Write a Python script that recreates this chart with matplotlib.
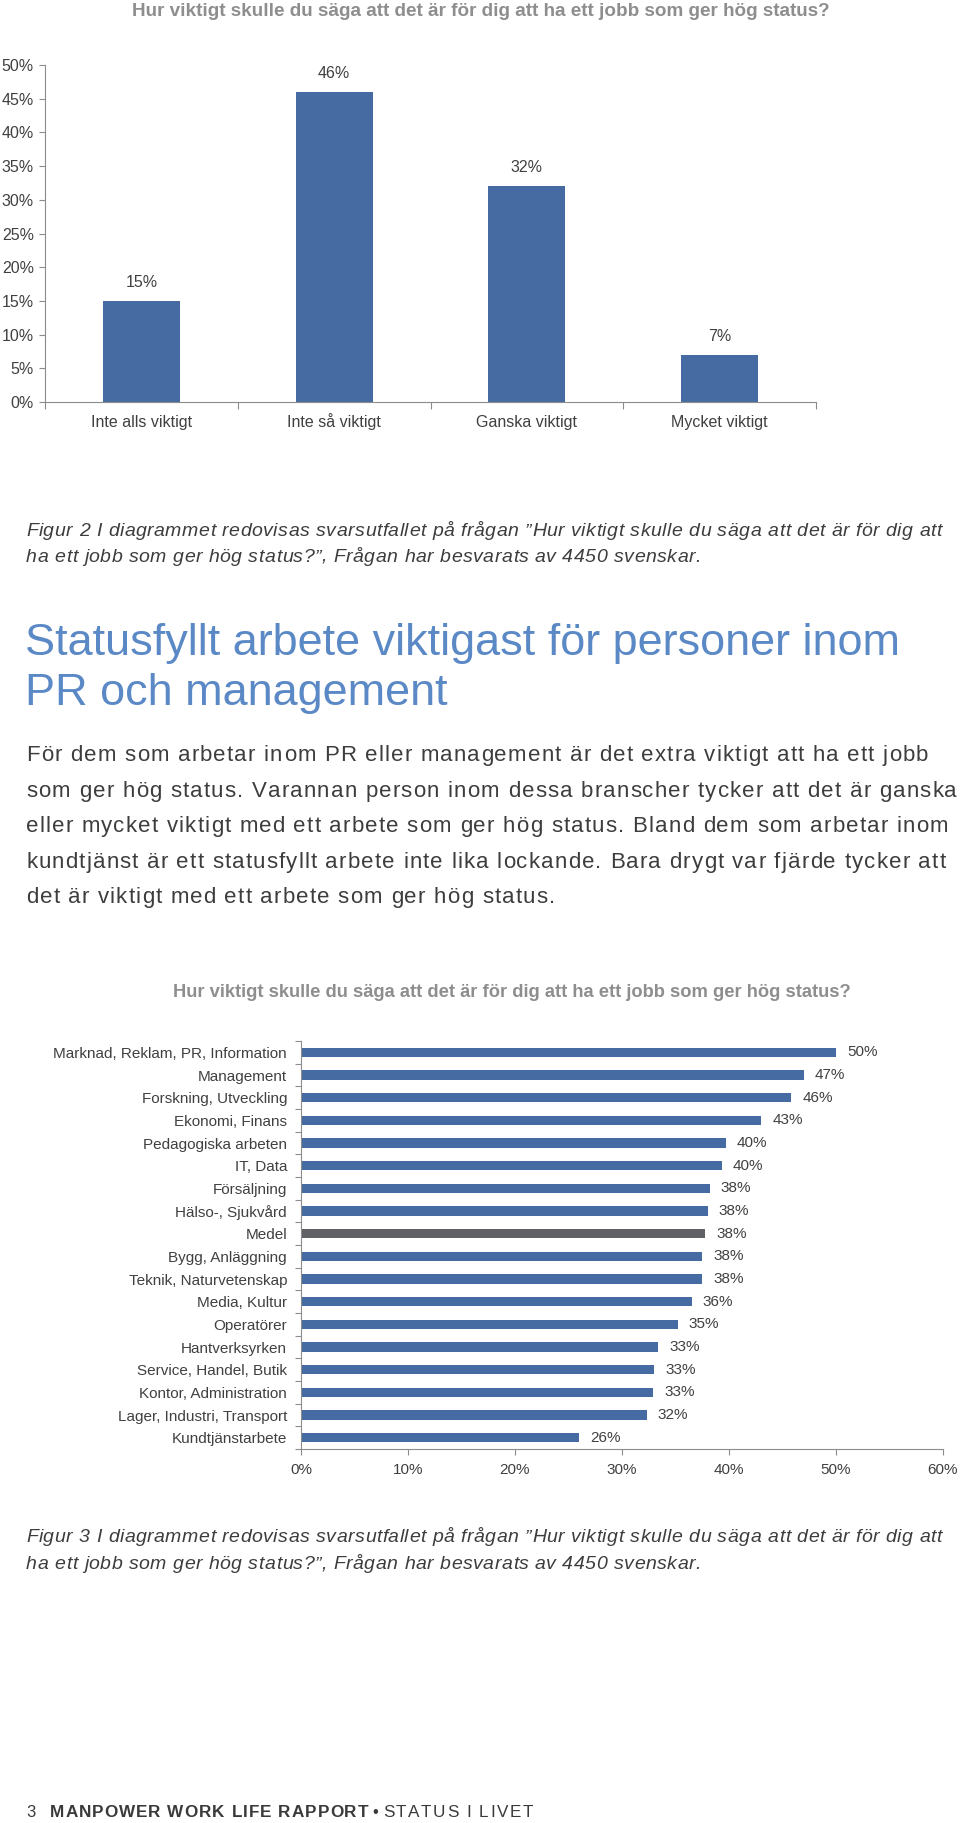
import matplotlib
matplotlib.use('Agg')
import matplotlib.pyplot as plt
import numpy as np
from matplotlib.font_manager import FontProperties, findfont
from matplotlib.ft2font import FT2Font

# --- data ---------------------------------------------------------------
fig2_categories = ['Inte alls viktigt', 'Inte så viktigt', 'Ganska viktigt', 'Mycket viktigt']
fig2_values = [15, 46, 32, 7]

fig3_categories = [
    'Marknad, Reklam, PR, Information', 'Management', 'Forskning, Utveckling',
    'Ekonomi, Finans', 'Pedagogiska arbeten', 'IT, Data', 'Försäljning',
    'Hälso-, Sjukvård', 'Medel', 'Bygg, Anläggning', 'Teknik, Naturvetenskap',
    'Media, Kultur', 'Operatörer', 'Hantverksyrken', 'Service, Handel, Butik',
    'Kontor, Administration', 'Lager, Industri, Transport', 'Kundtjänstarbete',
]
fig3_values = [50, 47, 46, 43, 40, 40, 38, 38, 38, 38, 38, 36, 35, 33, 33, 33, 32, 26]
fig3_bar_values = [50.0, 47.0, 45.8, 43.0, 39.7, 39.3, 38.2, 38.0, 37.8, 37.5, 37.5, 36.5, 35.2, 33.4, 33.0, 32.9, 32.3, 26.0]

question = 'Hur viktigt skulle du säga att det är för dig att ha ett jobb som ger hög status?'
caption2 = ['Figur 2 I diagrammet redovisas svarsutfallet på frågan ”Hur viktigt skulle du säga att det är för dig att',
            'ha ett jobb som ger hög status?”, Frågan har besvarats av 4450 svenskar.']
caption3 = ['Figur 3 I diagrammet redovisas svarsutfallet på frågan ”Hur viktigt skulle du säga att det är för dig att',
            'ha ett jobb som ger hög status?”, Frågan har besvarats av 4450 svenskar.']
heading = ['Statusfyllt arbete viktigast för personer inom', 'PR och management']
body = [
    'För dem som arbetar inom PR eller management är det extra viktigt att ha ett jobb',
    'som ger hög status. Varannan person inom dessa branscher tycker att det är ganska',
    'eller mycket viktigt med ett arbete som ger hög status. Bland dem som arbetar inom',
    'kundtjänst är ett statusfyllt arbete inte lika lockande. Bara drygt var fjärde tycker att',
    'det är viktigt med ett arbete som ger hög status.',
]
footer_page = '3'
footer_bold = 'MANPOWER WORK LIFE RAPPORT'
footer_rest = 'STATUS I LIVET'

# --- page setup ---------------------------------------------------------
W, H = 960, 1823
FAMILY = 'Liberation Sans'
plt.rcParams['font.family'] = [FAMILY, 'DejaVu Sans']

fig = plt.figure(figsize=(W / 100, H / 100), dpi=100)

def fx(x):
    return x / W

def fy(y):
    return 1 - y / H

def box(left, top, right, bottom):
    return [fx(left), fy(bottom), fx(right) - fx(left), (bottom - top) / H]

def spaced(x, y, s, size, track, color, style='normal', weight='normal'):
    # draw text one glyph at a time so the letter spacing of the page can be kept
    prop = FontProperties(family=FAMILY, size=size, style=style, weight=weight)
    font = FT2Font(findfont(prop))
    font.set_size(size, 100)
    for ch in s:
        if ch != ' ':
            fig.text(fx(x), fy(y), ch, fontproperties=prop, color=color,
                     ha='left', va='baseline')
        g = font.load_char(ord(ch))
        x += g.linearHoriAdvance / 65536 + track
    return x

blue = '#466ba3'
grey_bar = '#5f6167'
axis_col = '#8c8c8c'
text_col = '#404040'
title_col = '#8e8e8e'
para_col = '#3d3d3d'

# --- chart 1 (figure 2) ---------------------------------------------------
fig.text(fx(481), fy(11), question, ha='center', va='center', fontsize=13.6,
         fontweight='bold', color=title_col)

ax1 = fig.add_axes(box(45, 65, 816, 402))
x = np.arange(len(fig2_categories))
bars = ax1.bar(x, fig2_values, width=0.4, color=blue)
for b, v in zip(bars, fig2_values):
    ax1.annotate(f'{v}%', (b.get_x() + b.get_width() / 2, v), xytext=(0, 8),
                 textcoords='offset points', ha='center', va='bottom',
                 fontsize=11.5, color=text_col)
for i, c in enumerate(fig2_categories):
    ax1.annotate(c, (i, 0), xycoords=('data', 'axes fraction'), xytext=(0, -18),
                 textcoords='offset points', ha='center', va='baseline',
                 fontsize=11.5, color=text_col)
ax1.set_xlim(-0.5, len(fig2_categories) - 0.5)
ax1.set_ylim(0, 50)
ax1.set_yticks(np.arange(0, 51, 5))
ax1.set_yticklabels([f'{t}%' for t in range(0, 51, 5)])
ax1.set_xticks(np.arange(-0.5, len(fig2_categories), 1))
ax1.set_xticklabels([])
ax1.tick_params(axis='x', length=5, color=axis_col)
ax1.tick_params(axis='y', length=4, color=axis_col, labelsize=11.5, labelcolor=text_col, pad=4)
for s in ['top', 'right']:
    ax1.spines[s].set_visible(False)
for s in ['left', 'bottom']:
    ax1.spines[s].set_color(axis_col)

# --- captions, heading and body text --------------------------------------
spaced(26, 536, caption2[0], 14, 0.5, para_col, style='italic')
spaced(26, 562, caption2[1], 14, 0.5, para_col, style='italic')

heading_col = '#5b89c6'
fig.text(fx(25), fy(655), heading[0], ha='left', va='baseline', fontsize=32.4,
         color=heading_col)
fig.text(fx(25), fy(705), heading[1], ha='left', va='baseline', fontsize=32.4,
         color=heading_col)

for i, line in enumerate(body):
    spaced(26, 761 + i * 35.6, line, 16, 1.2, para_col)

# --- chart 2 (figure 3) ---------------------------------------------------
fig.text(fx(512), fy(992), question, ha='center', va='center', fontsize=13.2,
         fontweight='bold', color=title_col)

ax2 = fig.add_axes(box(301, 1041, 943, 1449))
n = len(fig3_categories)
y = np.arange(n)
colors = [grey_bar if c == 'Medel' else blue for c in fig3_categories]
hb = ax2.barh(y, fig3_bar_values, height=0.42, color=colors)
for b, v in zip(hb, fig3_values):
    ax2.annotate(f'{v}%', (b.get_width(), b.get_y() + b.get_height() / 2),
                 xytext=(8, 0), textcoords='offset points', ha='left', va='center',
                 fontsize=11, color=text_col)
ax2.set_ylim(n - 0.5, -0.5)
ax2.set_xlim(0, 60)
ax2.set_xticks(np.arange(0, 61, 10))
ax2.set_xticklabels([f'{t}%' for t in range(0, 61, 10)])
ax2.set_yticks(np.arange(-0.5, n, 1))
ax2.set_yticklabels([])
ax2.set_yticks(y, minor=True)
ax2.set_yticklabels(fig3_categories, minor=True)
ax2.tick_params(axis='y', which='major', length=4, color=axis_col)
ax2.tick_params(axis='y', which='minor', length=0, pad=10, labelsize=11, labelcolor=text_col)
ax2.tick_params(axis='x', length=4, color=axis_col, labelsize=11, labelcolor=text_col, pad=6)
for s in ['top', 'right']:
    ax2.spines[s].set_visible(False)
for s in ['left', 'bottom']:
    ax2.spines[s].set_color(axis_col)

spaced(26, 1542, caption3[0], 14, 0.5, para_col, style='italic')
spaced(26, 1569, caption3[1], 14, 0.5, para_col, style='italic')

# --- footer ---------------------------------------------------------------
foot_col = '#3a3a3a'
spaced(26, 1817, footer_page, 12, 0, foot_col)
xe = spaced(50, 1817, footer_bold, 12.3, 1.0, foot_col, weight='bold')
xe = spaced(xe + 3, 1817, '•', 12, 0, foot_col)
spaced(xe + 5, 1817, footer_rest, 12.3, 1.6, foot_col)

fig.savefig('out.png', dpi=100)
